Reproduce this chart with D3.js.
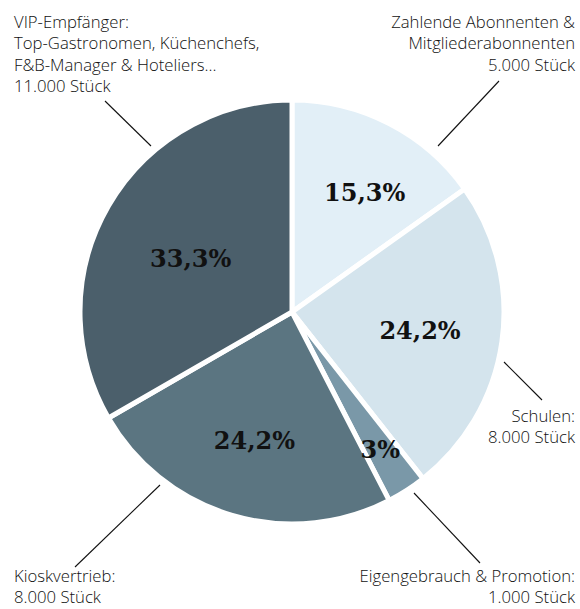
<!DOCTYPE html>
<html>
<head>
<meta charset="utf-8">
<script src="https://cdn.jsdelivr.net/npm/d3@7"></script>
<style>
  body { margin: 0; background: #fff; }
  .lbl { font-family: "Open Sans", sans-serif; font-weight: 300; font-size: 16.7px; fill: #111; }
  .pct { font-family: "DejaVu Serif", serif; font-weight: bold; font-size: 24px; fill: #111; }
</style>
</head>
<body>
<svg width="580" height="609"></svg>
<script>
const categories = ["Zahlende Abonnenten", "Schulen", "Eigengebrauch & Promotion", "Kioskvertrieb", "VIP-Empfänger"];
const counts = [5000, 8000, 1000, 8000, 11000];
const percentLabels = ["15,3%", "24,2%", "3%", "24,2%", "33,3%"];
const textLines = [
  ["Zahlende Abonnenten &", "Mitgliederabonnenten", "5.000 Stück"],
  ["Schulen:", "8.000 Stück"],
  ["Eigengebrauch & Promotion:", "1.000 Stück"],
  ["Kioskvertrieb:", "8.000 Stück"],
  ["VIP-Empfänger:", "Top-Gastronomen, Küchenchefs,", "F&B-Manager & Hoteliers...", "11.000 Stück"]
];
const colors = ["#e2eff7", "#d4e4ed", "#7a98a8", "#5b7581", "#4b5f6b"];

// layout (not data)
const cx = 292, cy = 312, r = 212;
const pctRadius = [0.66, 0.61, 0.77, 0.63, 0.54];
const pctAngleShift = [0.07, 0, 0, 0, -0.04];
const labelPos = [
  { x: 575, y: 28, anchor: "end", line: [[499, 81], [438, 146]] },
  { x: 575, y: 422, anchor: "end", line: [[504, 362], [542, 400]] },
  { x: 575, y: 582, anchor: "end", line: [[414, 493], [480, 563]] },
  { x: 14, y: 582, anchor: "start", line: [[160, 485], [75, 567]] },
  { x: 14, y: 28, anchor: "start", line: [[105, 101], [151, 146]] }
];

const svg = d3.select("svg");
const g = svg.append("g").attr("transform", `translate(${cx},${cy})`);

const data = categories.map((c, i) => ({ name: c, value: counts[i], i }));
const pie = d3.pie().value((d) => d.value).sort(null);
const arc = d3.arc().innerRadius(0).outerRadius(r);
const arcs = pie(data);

g.selectAll("path")
  .data(arcs)
  .enter()
  .append("path")
  .attr("d", arc)
  .attr("fill", (d) => colors[d.data.i])
  .attr("stroke", "#fff")
  .attr("stroke-width", 5)
  .attr("stroke-linejoin", "miter");

g.selectAll("text.pct")
  .data(arcs)
  .enter()
  .append("text")
  .attr("class", "pct")
  .attr("transform", (d) => {
    const rr = r * pctRadius[d.data.i];
    const s = pctAngleShift[d.data.i];
    const c = d3.arc().innerRadius(rr).outerRadius(rr)
      .centroid({ startAngle: d.startAngle + s, endAngle: d.endAngle + s });
    return `translate(${c[0]},${c[1]})`;
  })
  .attr("text-anchor", "middle")
  .attr("dy", "0.36em")
  .text((d) => percentLabels[d.data.i]);

// leader lines
svg.selectAll("line.lead")
  .data(labelPos)
  .enter()
  .append("line")
  .attr("x1", (d) => d.line[0][0])
  .attr("y1", (d) => d.line[0][1])
  .attr("x2", (d) => d.line[1][0])
  .attr("y2", (d) => d.line[1][1])
  .attr("stroke", "#111")
  .attr("stroke-width", 1.1);

// text labels
labelPos.forEach((p, i) => {
  const t = svg.append("text")
    .attr("class", "lbl")
    .attr("x", p.x)
    .attr("y", p.y)
    .attr("text-anchor", p.anchor);
  textLines[i].forEach((line, k) => {
    t.append("tspan").attr("x", p.x).attr("dy", k === 0 ? 0 : 21.3).text(line);
  });
});
</script>
</body>
</html>
